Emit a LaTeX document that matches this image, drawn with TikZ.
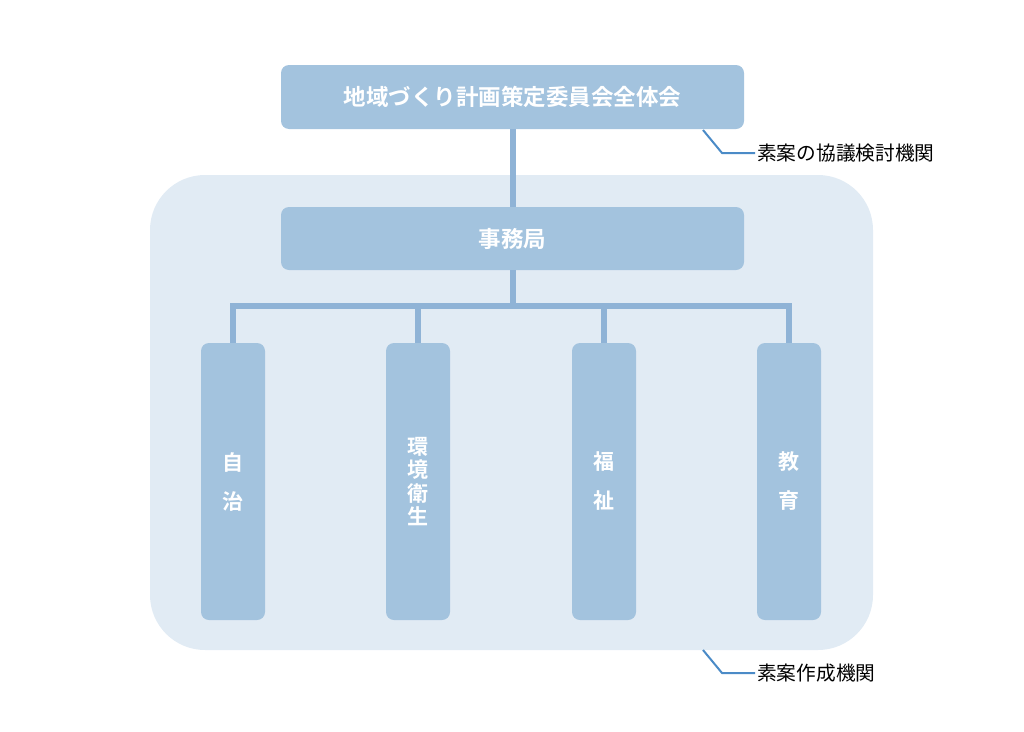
\documentclass[tikz,border=0pt]{standalone}
\usepackage{fontspec}
\newfontfamily\jp{Noto Sans CJK JP}[BoldFont={Noto Sans CJK JP Bold}]
\definecolor{boxfill}{HTML}{A3C3DE}
\definecolor{bgfill}{HTML}{E1EBF4}
\definecolor{connc}{HTML}{8FB3D6}
\definecolor{callc}{HTML}{4B8BC7}
\tikzset{
  orgbox/.style={fill=boxfill, draw=none, rounded corners=8, inner sep=0pt, text=white, font=\jp\bfseries\fontsize{22.5}{26}\selectfont},
  vbox/.style={orgbox, minimum width=64, minimum height=277, align=center},
  conn/.style={draw=connc, line width=6, line join=miter},
  callout/.style={draw=callc, line width=2},
  calltext/.style={font=\jp\fontsize{19.7}{22}\selectfont, text=black, inner sep=2pt, anchor=west}
}
\begin{document}
\begin{tikzpicture}[x=1pt,y=-1pt]
\useasboundingbox (0,0) rectangle (1024,731);
\node[fill=bgfill, rounded corners=55, minimum width=723, minimum height=475, inner sep=0pt] (bg) at (511.5,412.5) {};
\node[orgbox, minimum width=463, minimum height=64] (top) at (512.5,97) {地域づくり計画策定委員会全体会};
\node[orgbox, minimum width=463, minimum height=63] (jimu) at (512.5,238.5) {事務局};
\node[vbox, font=\jp\bfseries\fontsize{21}{39}\selectfont] (v1) at (233,481.5) {自\\治};
\node[vbox, font=\jp\bfseries\fontsize{21}{23.5}\selectfont] (v2) at (418,481.5) {環\\境\\衛\\生};
\node[vbox, font=\jp\bfseries\fontsize{21}{39}\selectfont] (v3) at (604,481.5) {福\\祉};
\node[vbox, font=\jp\bfseries\fontsize{21}{39}\selectfont] (v4) at (789,481.5) {教\\育};
\coordinate (bus) at (512.5,306);
\draw[conn] (top.south) -- (jimu.north);
\draw[conn] (jimu.south) -- (bus);
\draw[conn] (v1.north) |- (bus) -| (v4.north);
\draw[conn] (v2.north) -- (v2.north |- bus);
\draw[conn] (v3.north) -- (v3.north |- bus);
\node[calltext] (t1) at (755,153) {素案の協議検討機関};
\coordinate (c1a) at (703,130);
\coordinate (c1b) at (722,153);
\draw[callout] (c1a) -- (c1b) -- (t1.west);
\node[calltext] (t2) at (755,673) {素案作成機関};
\coordinate (c2a) at (703,650);
\coordinate (c2b) at (722,673);
\draw[callout] (c2a) -- (c2b) -- (t2.west);
\end{tikzpicture}
\end{document}
